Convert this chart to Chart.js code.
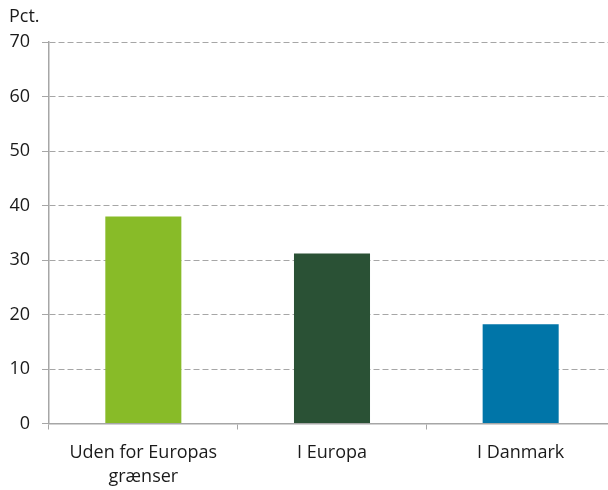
<!DOCTYPE html>
<html>
<head>
<meta charset="utf-8">
<script src="https://cdn.jsdelivr.net/npm/chart.js@4/dist/chart.umd.min.js"></script>
<style>
  html, body { margin: 0; padding: 0; background: #fff; overflow: hidden; }
  #wrap { position: relative; width: 615px; height: 490px; }
  #unit { position: absolute; left: 9px; top: 3px; font: 18px "Open Sans", sans-serif; color: #1a1a1a; }
</style>
</head>
<body>
<div id="wrap">
  <div id="unit">Pct.</div>
  <canvas id="ch_share"></canvas>
</div>
<script>
// Categories and values
const categories = [['Uden for Europas', 'grænser'], 'I Europa', 'I Danmark'];
const shares = [38.0, 31.2, 18.2];
const barColors = ['#88bb28', '#2a5135', '#0075a8'];
const yTicks = [0, 10, 20, 30, 40, 50, 60, 70];

const FONT = { family: '"Open Sans", sans-serif', size: 18 };
const AXIS_GREY = '#a6a6a6';

const canvas = document.getElementById('ch_share');
canvas.width = 615; canvas.height = 490;

new Chart(canvas.getContext('2d'), {
  type: 'bar',
  data: {
    labels: categories,
    datasets: [{
      data: shares,
      backgroundColor: barColors,
      categoryPercentage: 1,
      barPercentage: 0.403
    }]
  },
  options: {
    responsive: false,
    animation: false,
    layout: { padding: { top: 42, right: 0, bottom: 0, left: 0 } },
    plugins: { legend: { display: false }, tooltip: { enabled: false } },
    scales: {
      x: {
        afterFit: s => { s.height = 66.5; },
        grid: { offset: true, drawOnChartArea: false, drawTicks: true, tickLength: 6, color: AXIS_GREY },
        border: { color: AXIS_GREY, width: 1.5 },
        ticks: { font: { ...FONT, lineHeight: 1.333 }, color: '#1a1a1a', padding: 11, maxRotation: 0 }
      },
      y: {
        min: 0, max: 70,
        afterBuildTicks: s => { s.ticks = yTicks.map(v => ({ value: v })); },
        afterFit: s => { s.width = 49; },
        grid: { color: AXIS_GREY, lineWidth: 1, tickLength: 7, tickBorderDash: [] },
        border: { color: AXIS_GREY, width: 1.5, dash: [6, 3] },
        ticks: { font: FONT, color: '#1a1a1a', padding: 12 }
      }
    }
  }
});
</script>
</body>
</html>
